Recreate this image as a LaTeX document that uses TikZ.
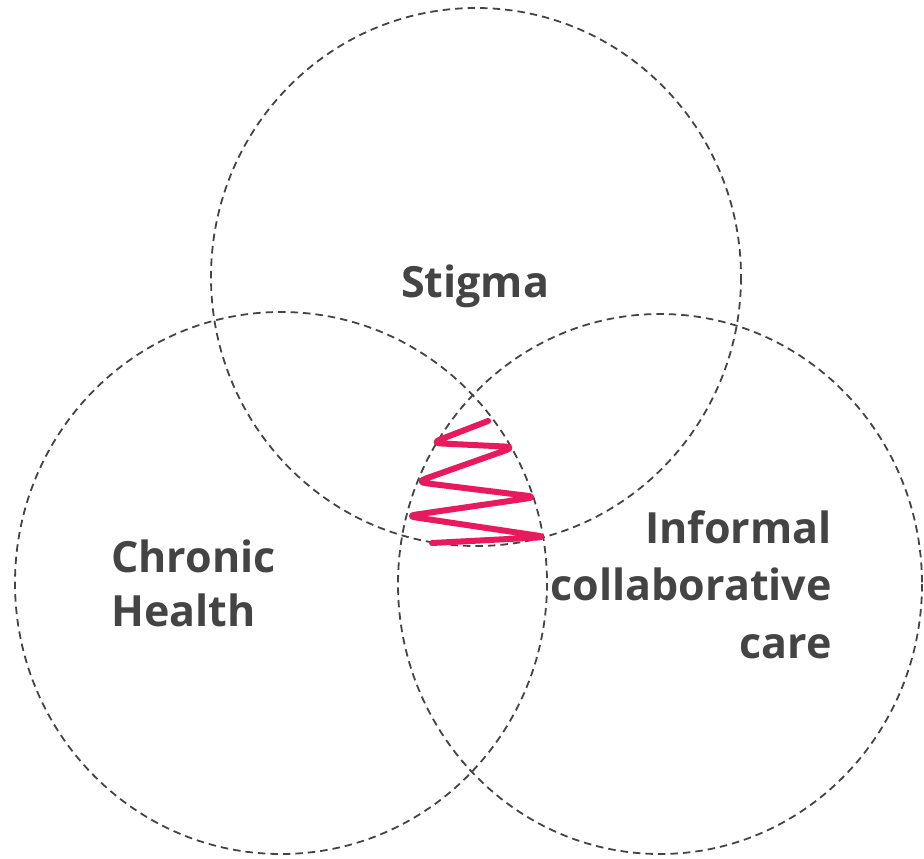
\documentclass[tikz,border=0pt]{standalone}
\usepackage{fontspec}
\setmainfont{Open Sans}[Ligatures=NoCommon]
\definecolor{ink}{HTML}{444444}
\definecolor{accent}{HTML}{E8195C}
\begin{document}
\begin{tikzpicture}[x=1pt,y=-1pt,
  ring/.style={draw=ink,line width=1.8pt,dash pattern=on 7.5pt off 5pt},
  label/.style={text=ink,font=\fontsize{43}{53}\selectfont\bfseries,inner sep=0pt},
  squiggle/.style={draw=accent,line width=6pt,line cap=round,line join=round,rounded corners=10pt}]
  \useasboundingbox (0,0) rectangle (924,859);
  % three overlapping circles
  \draw[ring] (476,277) ellipse [x radius=265, y radius=269];
  \draw[ring] (281,583) ellipse [x radius=266, y radius=271];
  \draw[ring] (660,584) ellipse [x radius=262, y radius=270];
  % labels
  \node[label,anchor=base] (stigma) at (475,297) {Stigma};
  \node[label,anchor=base west] (chronic) at (111,572) {Chronic};
  \node[label,anchor=base west] (health) at (111,626) {Health};
  \node[label,anchor=base east] (informal) at (832,543) {Informal};
  \node[label,anchor=base east] (collab) at (832,600) {collaborative};
  \node[label,anchor=base east] (care) at (832,658) {care};
  % zigzag in the triple overlap
  \coordinate (z0) at (488,421);
  \coordinate (z1) at (431,443);
  \coordinate (z2) at (515,447);
  \coordinate (z3) at (416,482);
  \coordinate (z4) at (537,497);
  \coordinate (z5) at (406,516);
  \coordinate (z6) at (547,537);
  \coordinate (z7) at (432,543);
  \draw[squiggle] (z0) -- (z1) -- (z2) -- (z3) -- (z4) -- (z5) -- (z6) -- (z7);
\end{tikzpicture}
\end{document}
